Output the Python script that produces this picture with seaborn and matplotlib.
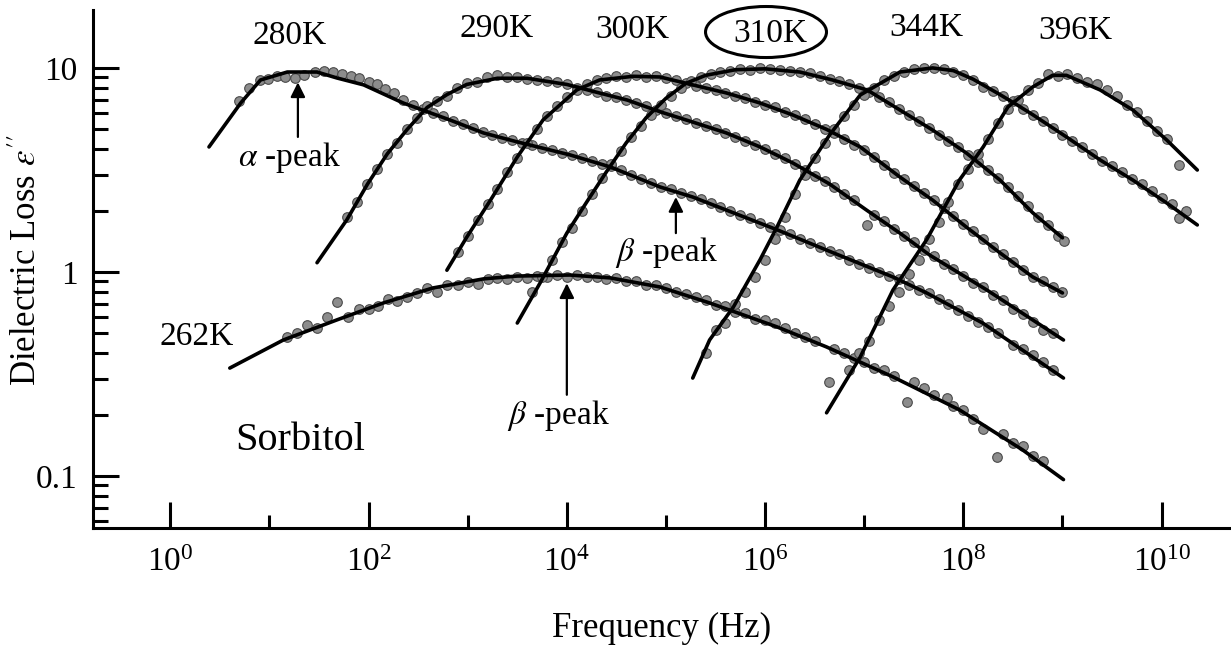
import numpy as np
import pandas as pd
import matplotlib
matplotlib.use('Agg')
import matplotlib.pyplot as plt
import seaborn as sns
from matplotlib.patches import Ellipse
from matplotlib.ticker import FixedLocator, NullFormatter, FuncFormatter, LogFormatterMathtext

sns.set_style('ticks')
plt.rcParams['font.family'] = ['Liberation Serif', 'DejaVu Serif']
plt.rcParams['mathtext.fontset'] = 'stix'
plt.rcParams.update({'text.color': 'black', 'axes.labelcolor': 'black',
                     'xtick.color': 'black', 'ytick.color': 'black'})

temps = ['262K', '280K', '290K', '300K', '310K', '344K', '396K']

# fitted curves: log10(frequency / Hz) and loss
fit_lf_262 = [0.60, 1.14, 1.68, 2.15, 2.65, 3.16, 3.50, 4.03, 4.44, 4.94, 5.44, 6.12, 6.62, 7.29, 7.96, 8.60, 9.01]
fit_eps_262 = [0.338, 0.464, 0.582, 0.705, 0.835, 0.925, 0.955, 0.966, 0.935, 0.844, 0.705, 0.538, 0.429, 0.306, 0.211, 0.134, 0.096]
fit_lf_280 = [0.39, 0.71, 0.91, 1.18, 1.48, 1.68, 1.95, 2.35, 2.82, 3.16, 3.50, 4.03, 4.44, 4.94, 5.27, 5.61, 6.12, 6.62, 7.29, 7.63, 8.20, 9.01]
fit_eps_280 = [4.10, 6.73, 8.73, 9.55, 9.55, 8.93, 8.26, 6.73, 5.56, 4.80, 4.34, 3.75, 3.27, 2.61, 2.33, 2.01, 1.61, 1.28, 0.945, 0.789, 0.56, 0.302]
fit_lf_290 = [1.48, 1.78, 1.99, 2.19, 2.39, 2.59, 2.79, 2.99, 3.30, 3.60, 4.00, 4.30, 4.61, 4.94, 5.27, 5.61, 5.95, 6.28, 6.65, 7.03, 7.36, 7.66, 8.23, 9.01]
fit_eps_290 = [1.11, 1.80, 2.70, 3.80, 5.0, 6.4, 7.4, 8.3, 8.9, 8.9, 8.3, 7.6, 6.96, 6.1, 5.43, 4.80, 4.10, 3.42, 2.7, 2.0, 1.55, 1.21, 0.82, 0.464]
fit_lf_300 = [2.79, 2.99, 3.23, 3.50, 3.76, 4.10, 4.33, 4.67, 4.94, 5.27, 5.61, 5.95, 6.28, 6.62, 6.96, 7.36, 7.69, 8.03, 8.37, 8.70, 9.00]
fit_eps_300 = [1.02, 1.48, 2.25, 3.66, 5.56, 7.80, 8.73, 9.10, 9.03, 8.26, 7.54, 6.73, 5.88, 5.0, 4.1, 2.92, 2.25, 1.66, 1.24, 0.945, 0.789]
fit_lf_310 = [3.50, 3.73, 4.00, 4.20, 4.40, 4.60, 4.80, 5.00, 5.20, 5.40, 5.70, 6.00, 6.35, 6.68, 7.03, 7.36, 7.69, 8.03, 8.37, 8.70, 9.00]
fit_eps_310 = [0.562, 0.883, 1.55, 2.2, 3.1, 4.3, 5.7, 7.1, 8.4, 9.2, 9.8, 9.9, 9.55, 8.73, 7.80, 6.22, 4.96, 3.83, 2.82, 1.95, 1.47]
fit_lf_344 = [5.27, 5.44, 5.68, 5.95, 6.12, 6.35, 6.65, 6.96, 7.36, 7.69, 7.90, 8.10, 8.37, 8.54, 8.70, 9.04, 9.38, 9.71, 10.05, 10.36]
fit_eps_344 = [0.302, 0.464, 0.673, 1.15, 1.66, 2.82, 4.69, 7.37, 9.55, 10.0, 9.7, 8.8, 7.4, 6.6, 5.9, 4.59, 3.54, 2.82, 2.18, 1.70]
fit_lf_396 = [6.62, 6.96, 7.29, 7.63, 7.96, 8.20, 8.45, 8.70, 8.90, 9.04, 9.38, 9.71, 10.05, 10.36]
fit_eps_396 = [0.204, 0.383, 0.816, 1.44, 2.82, 4.10, 6.44, 8.07, 9.2, 9.2, 7.80, 6.22, 4.44, 3.16]

# measured points
dat_lf_262 = [1.18, 1.28, 1.38, 1.48, 1.58, 1.68, 1.79, 1.90, 2.00, 2.09, 2.20, 2.29, 2.39, 2.49, 2.59, 2.69,
              2.79, 2.90, 3.00, 3.10, 3.20, 3.30, 3.40, 3.50, 3.60, 3.70, 3.80, 3.90, 4.00, 4.10, 4.20, 4.30,
              4.40, 4.50, 4.60, 4.70, 4.80, 4.90, 5.00, 5.10, 5.20, 5.30, 5.40, 5.50, 5.60, 5.70, 5.80, 5.90,
              6.00, 6.10, 6.20, 6.30, 6.40, 6.50, 6.64, 6.70, 6.80, 6.90, 7.00, 7.10, 7.20, 7.30, 7.43, 7.50,
              7.60, 7.70, 7.84, 7.90, 8.00, 8.10, 8.20, 8.34, 8.40, 8.50, 8.60, 8.70, 8.80]
dat_eps_262 = [0.48, 0.50, 0.55, 0.53, 0.60, 0.71, 0.60, 0.66, 0.66, 0.68, 0.74, 0.72, 0.75, 0.79, 0.83, 0.80,
               0.86, 0.86, 0.89, 0.87, 0.92, 0.93, 0.92, 0.95, 0.93, 0.96, 0.95, 0.97, 0.95, 0.97, 0.95, 0.95,
               0.92, 0.93, 0.90, 0.90, 0.86, 0.86, 0.83, 0.80, 0.78, 0.75, 0.73, 0.69, 0.68, 0.64, 0.63, 0.59,
               0.58, 0.56, 0.53, 0.50, 0.48, 0.46, 0.29, 0.42, 0.40, 0.38, 0.36, 0.34, 0.33, 0.31, 0.23, 0.29,
               0.27, 0.25, 0.24, 0.22, 0.21, 0.19, 0.17, 0.124, 0.16, 0.145, 0.14, 0.125, 0.118]
dat_lf_280 = [0.69, 0.79, 0.90, 0.99, 1.08, 1.16, 1.26, 1.35, 1.46, 1.55, 1.64, 1.73, 1.82, 1.90, 2.00, 2.08,
              2.17, 2.26, 2.35, 2.45, 2.55, 2.65, 2.75, 2.85, 2.95, 3.05, 3.15, 3.25, 3.35, 3.45, 3.55, 3.65,
              3.75, 3.85, 3.95, 4.05, 4.15, 4.25, 4.35, 4.45, 4.55, 4.65, 4.75, 4.85, 4.95, 5.05, 5.15, 5.25,
              5.35, 5.45, 5.55, 5.65, 5.75, 5.85, 5.95, 6.05, 6.15, 6.25, 6.35, 6.45, 6.55, 6.65, 6.75, 6.85,
              6.95, 7.05, 7.15, 7.25, 7.35, 7.45, 7.55, 7.65, 7.75, 7.85, 7.95, 8.05, 8.15, 8.25, 8.35, 8.50,
              8.60, 8.70, 8.80, 8.90]
dat_eps_280 = [6.9, 8.0, 8.7, 8.8, 9.1, 9.0, 8.9, 9.2, 9.6, 9.7, 9.5, 9.3, 9.1, 8.9, 8.5, 8.3,
               7.9, 7.5, 7.0, 6.6, 6.3, 6.0, 5.8, 5.5, 5.3, 5.1, 4.85, 4.7, 4.55, 4.45, 4.3, 4.2,
               4.05, 3.95, 3.85, 3.75, 3.6, 3.5, 3.38, 3.3, 3.15, 3.0, 2.85, 2.72, 2.62, 2.55, 2.45, 2.35,
               2.27, 2.17, 2.07, 1.98, 1.90, 1.83, 1.74, 1.66, 1.60, 1.53, 1.45, 1.38, 1.33, 1.27, 1.22, 1.15,
               1.10, 1.05, 1.00, 0.96, 0.92, 0.86, 0.82, 0.79, 0.74, 0.70, 0.65, 0.61, 0.57, 0.54, 0.50, 0.44,
               0.42, 0.39, 0.36, 0.33]
dat_lf_290 = [1.78, 1.88, 1.98, 2.08, 2.19, 2.29, 2.39, 2.49, 2.59, 2.69, 2.79, 2.89, 2.99, 3.09, 3.19, 3.30,
              3.40, 3.50, 3.60, 3.70, 3.80, 3.90, 4.00, 4.10, 4.20, 4.30, 4.40, 4.50, 4.60, 4.70, 4.80, 4.90,
              5.00, 5.10, 5.20, 5.30, 5.40, 5.50, 5.60, 5.70, 5.80, 5.90, 6.00, 6.10, 6.20, 6.30, 6.40, 6.50,
              6.60, 6.70, 6.80, 6.90, 7.03, 7.10, 7.20, 7.30, 7.40, 7.50, 7.60, 7.70, 7.80, 7.90, 8.00, 8.10,
              8.20, 8.30, 8.40, 8.50, 8.60, 8.70, 8.80, 8.90]
dat_eps_290 = [1.85, 2.2, 2.7, 3.2, 3.8, 4.3, 5.0, 5.7, 6.5, 6.9, 7.3, 8.0, 8.4, 8.5, 9.0, 9.2,
               9.0, 9.0, 8.8, 8.7, 8.6, 8.5, 8.3, 8.0, 7.8, 7.6, 7.3, 7.2, 7.0, 6.7, 6.5, 6.2,
               6.0, 5.8, 5.6, 5.4, 5.2, 5.0, 4.8, 4.6, 4.4, 4.2, 4.0, 3.8, 3.6, 3.4, 3.15, 2.95,
               2.8, 2.6, 2.4, 2.25, 1.70, 1.9, 1.78, 1.62, 1.50, 1.40, 1.28, 1.20, 1.10, 1.03, 0.96, 0.88,
               0.84, 0.77, 0.73, 0.66, 0.62, 0.57, 0.52, 0.50]
dat_lf_300 = [2.90, 3.00, 3.10, 3.20, 3.30, 3.40, 3.50, 3.60, 3.70, 3.80, 3.90, 4.00, 4.10, 4.20, 4.30, 4.40,
              4.50, 4.60, 4.70, 4.80, 4.90, 5.00, 5.10, 5.20, 5.30, 5.40, 5.50, 5.60, 5.70, 5.80, 5.90, 6.00,
              6.10, 6.20, 6.30, 6.40, 6.50, 6.60, 6.70, 6.80, 6.90, 7.00, 7.10, 7.20, 7.30, 7.40, 7.50, 7.60,
              7.70, 7.80, 7.90, 8.00, 8.10, 8.20, 8.30, 8.40, 8.50, 8.60, 8.70, 8.80, 8.90, 9.00]
dat_eps_300 = [1.25, 1.50, 1.80, 2.15, 2.55, 3.1, 3.6, 4.3, 5.0, 5.8, 6.5, 7.2, 7.8, 8.3, 8.7, 8.9,
               9.1, 9.0, 9.2, 9.0, 9.1, 8.9, 8.7, 8.4, 8.2, 8.0, 7.8, 7.5, 7.3, 7.1, 6.8, 6.6,
               6.4, 6.1, 5.9, 5.6, 5.3, 5.0, 4.8, 4.5, 4.2, 3.95, 3.65, 3.35, 3.05, 2.85, 2.65, 2.45,
               2.25, 2.05, 1.88, 1.72, 1.58, 1.45, 1.33, 1.22, 1.12, 1.02, 0.95, 0.90, 0.84, 0.80]
dat_lf_310 = [3.65, 3.75, 3.85, 3.95, 4.05, 4.15, 4.25, 4.35, 4.45, 4.55, 4.65, 4.75, 4.85, 4.95, 5.05, 5.15,
              5.25, 5.35, 5.45, 5.55, 5.65, 5.75, 5.85, 5.95, 6.05, 6.15, 6.25, 6.35, 6.45, 6.55, 6.65, 6.75,
              6.85, 6.95, 7.05, 7.15, 7.25, 7.35, 7.45, 7.55, 7.65, 7.75, 7.85, 7.95, 8.05, 8.15, 8.25, 8.35,
              8.45, 8.55, 8.65, 8.75, 8.85, 8.95, 9.02]
dat_eps_310 = [0.80, 0.95, 1.15, 1.40, 1.65, 2.0, 2.4, 2.9, 3.4, 3.9, 4.6, 5.2, 5.9, 6.6, 7.3, 8.0,
               8.6, 9.0, 9.3, 9.6, 9.7, 9.9, 9.8, 10.0, 9.9, 9.8, 9.7, 9.6, 9.4, 9.1, 8.8, 8.6,
               8.3, 8.0, 7.6, 7.2, 6.8, 6.3, 5.9, 5.5, 5.1, 4.7, 4.4, 4.1, 3.75, 3.45, 3.15, 2.9,
               2.6, 2.35, 2.1, 1.85, 1.70, 1.50, 1.42]
dat_lf_344 = [5.40, 5.50, 5.60, 5.70, 5.80, 5.90, 6.00, 6.10, 6.20, 6.30, 6.40, 6.50, 6.60, 6.70, 6.80, 6.90,
              7.00, 7.10, 7.20, 7.30, 7.40, 7.50, 7.60, 7.70, 7.80, 7.90, 8.00, 8.10, 8.20, 8.30, 8.40, 8.50,
              8.60, 8.70, 8.80, 8.90, 9.00, 9.10, 9.20, 9.30, 9.40, 9.50, 9.60, 9.70, 9.80, 9.90, 10.00, 10.10,
              10.18, 10.25]
dat_eps_344 = [0.40, 0.52, 0.56, 0.70, 0.80, 0.95, 1.15, 1.45, 1.85, 2.4, 3.0, 3.6, 4.3, 5.0, 5.8, 6.6,
               7.4, 8.0, 8.7, 9.1, 9.6, 9.9, 10.0, 10.0, 9.9, 9.6, 9.2, 8.7, 8.1, 7.7, 7.3, 6.9,
               6.3, 5.9, 5.5, 5.1, 4.7, 4.4, 4.1, 3.8, 3.5, 3.3, 3.1, 2.85, 2.7, 2.5, 2.3, 2.15,
               1.84, 2.0]
dat_lf_396 = [6.85, 6.95, 7.05, 7.15, 7.25, 7.35, 7.45, 7.55, 7.65, 7.75, 7.85, 7.95, 8.05, 8.15, 8.25, 8.35,
              8.45, 8.55, 8.65, 8.75, 8.85, 8.95, 9.05, 9.15, 9.25, 9.35, 9.45, 9.55, 9.65, 9.75, 9.85, 9.95,
              10.05, 10.18]
dat_eps_396 = [0.33, 0.40, 0.46, 0.58, 0.68, 0.80, 0.98, 1.15, 1.45, 1.75, 2.2, 2.7, 3.2, 3.8, 4.5, 5.4,
               6.3, 7.0, 7.8, 8.4, 9.3, 9.1, 9.3, 8.9, 8.5, 8.3, 7.8, 7.3, 6.6, 6.1, 5.5, 4.9,
               4.5, 3.35]

fit_lf = [fit_lf_262, fit_lf_280, fit_lf_290, fit_lf_300, fit_lf_310, fit_lf_344, fit_lf_396]
fit_eps = [fit_eps_262, fit_eps_280, fit_eps_290, fit_eps_300, fit_eps_310, fit_eps_344, fit_eps_396]
dat_lf = [dat_lf_262, dat_lf_280, dat_lf_290, dat_lf_300, dat_lf_310, dat_lf_344, dat_lf_396]
dat_eps = [dat_eps_262, dat_eps_280, dat_eps_290, dat_eps_300, dat_eps_310, dat_eps_344, dat_eps_396]

fits = pd.concat([pd.DataFrame({'freq': 10.0 ** np.array(lf), 'loss': e, 'T': t})
                  for t, lf, e in zip(temps, fit_lf, fit_eps)], ignore_index=True)
points = pd.concat([pd.DataFrame({'freq': 10.0 ** np.array(lf), 'loss': e, 'T': t})
                    for t, lf, e in zip(temps, dat_lf, dat_eps)], ignore_index=True)

W, H = 1231, 647
fig = plt.figure(figsize=(W / 100, H / 100), dpi=100)
ax = fig.add_axes([93 / W, 1 - 528 / H, 1 - 93 / W, (528 - 10) / H])
ax.set_xscale('log')
ax.set_yscale('log')

sns.scatterplot(data=points, x='freq', y='loss', color='#8c8c8c', edgecolor='#4a4a4a',
                linewidth=0.8, s=48, legend=False, zorder=2, ax=ax)
sns.lineplot(data=fits, x='freq', y='loss', units='T', estimator=None, sort=False,
             color='black', lw=2.6, zorder=3, ax=ax)

ax.set_xlim(10 ** -0.78, 10 ** 10.70)
ax.set_ylim(10 ** -1.255, 10 ** 1.284)

ax.xaxis.set_major_locator(FixedLocator(10.0 ** np.arange(0, 11, 2)))
ax.xaxis.set_major_formatter(LogFormatterMathtext())
ax.xaxis.set_minor_locator(FixedLocator(10.0 ** np.arange(1, 11, 2)))
ax.xaxis.set_minor_formatter(NullFormatter())
ax.yaxis.set_major_locator(FixedLocator([0.1, 1, 10]))
ax.yaxis.set_major_formatter(FuncFormatter(lambda v, p: '%g' % v))
ax.yaxis.set_minor_locator(FixedLocator([0.06, 0.07, 0.08, 0.09] + [m * 0.1 for m in range(2, 10)]
                                        + [float(m) for m in range(2, 10)]))
ax.yaxis.set_minor_formatter(NullFormatter())

ax.tick_params(which='both', direction='in', width=2.2, labelsize=24, color='black',
               bottom=True, left=True, top=False, right=False)
ax.tick_params(axis='x', which='major', length=18.7, pad=14)
ax.tick_params(axis='x', which='minor', length=9.4)
ax.tick_params(axis='y', which='major', length=18.7, pad=11)
ax.tick_params(axis='y', which='minor', length=10.8)

sns.despine(ax=ax)
for s in ['left', 'bottom']:
    ax.spines[s].set_linewidth(2.2)
    ax.spines[s].set_color('black')

ax.set_xlabel('Frequency (Hz)', fontsize=25)
ax.xaxis.set_label_coords(0.5, -0.162)
ax.set_ylabel(r"Dielectric Loss $\varepsilon''$", fontsize=25)
ax.yaxis.set_label_coords(-0.043, 0.517)

# temperature labels
lab_pos = {'280K': (1.20, 14.4), '290K': (3.29, 15.5), '300K': (4.66, 15.4), '310K': (6.05, 14.7),
           '344K': (7.63, 15.7), '396K': (9.13, 15.2), '262K': (0.27, 0.48)}
for t, (lx, ly) in lab_pos.items():
    ax.text(10 ** lx, ly, t, fontsize=24, ha='center', va='center', clip_on=False)
ax.add_patch(Ellipse((0.5914, 0.9575), 0.1063, 0.0985, transform=ax.transAxes,
                     fill=False, lw=2.2, ec='black', clip_on=False))

ax.text(10 ** 1.31, 0.149, 'Sorbitol', fontsize=29, ha='center', va='center')

arrow = dict(arrowstyle='-|>', color='black', lw=1.6, mutation_scale=22, shrinkA=0, shrinkB=0)
ax.annotate('', xy=(10 ** 1.287, 8.5), xytext=(10 ** 1.287, 4.59), arrowprops=arrow)
ax.text(10 ** 1.205, 3.62, r'$\alpha$ -peak', fontsize=24, ha='center', va='center')
ax.annotate('', xy=(10 ** 5.10, 2.33), xytext=(10 ** 5.10, 1.55), arrowprops=arrow)
ax.text(10 ** 5.0, 1.24, r'$\beta$ -peak', fontsize=24, ha='center', va='center')
ax.annotate('', xy=(10 ** 4.0, 0.88), xytext=(10 ** 4.0, 0.25), arrowprops=arrow)
ax.text(10 ** 3.91, 0.199, r'$\beta$ -peak', fontsize=24, ha='center', va='center')

fig.savefig('out.png', dpi=100)
